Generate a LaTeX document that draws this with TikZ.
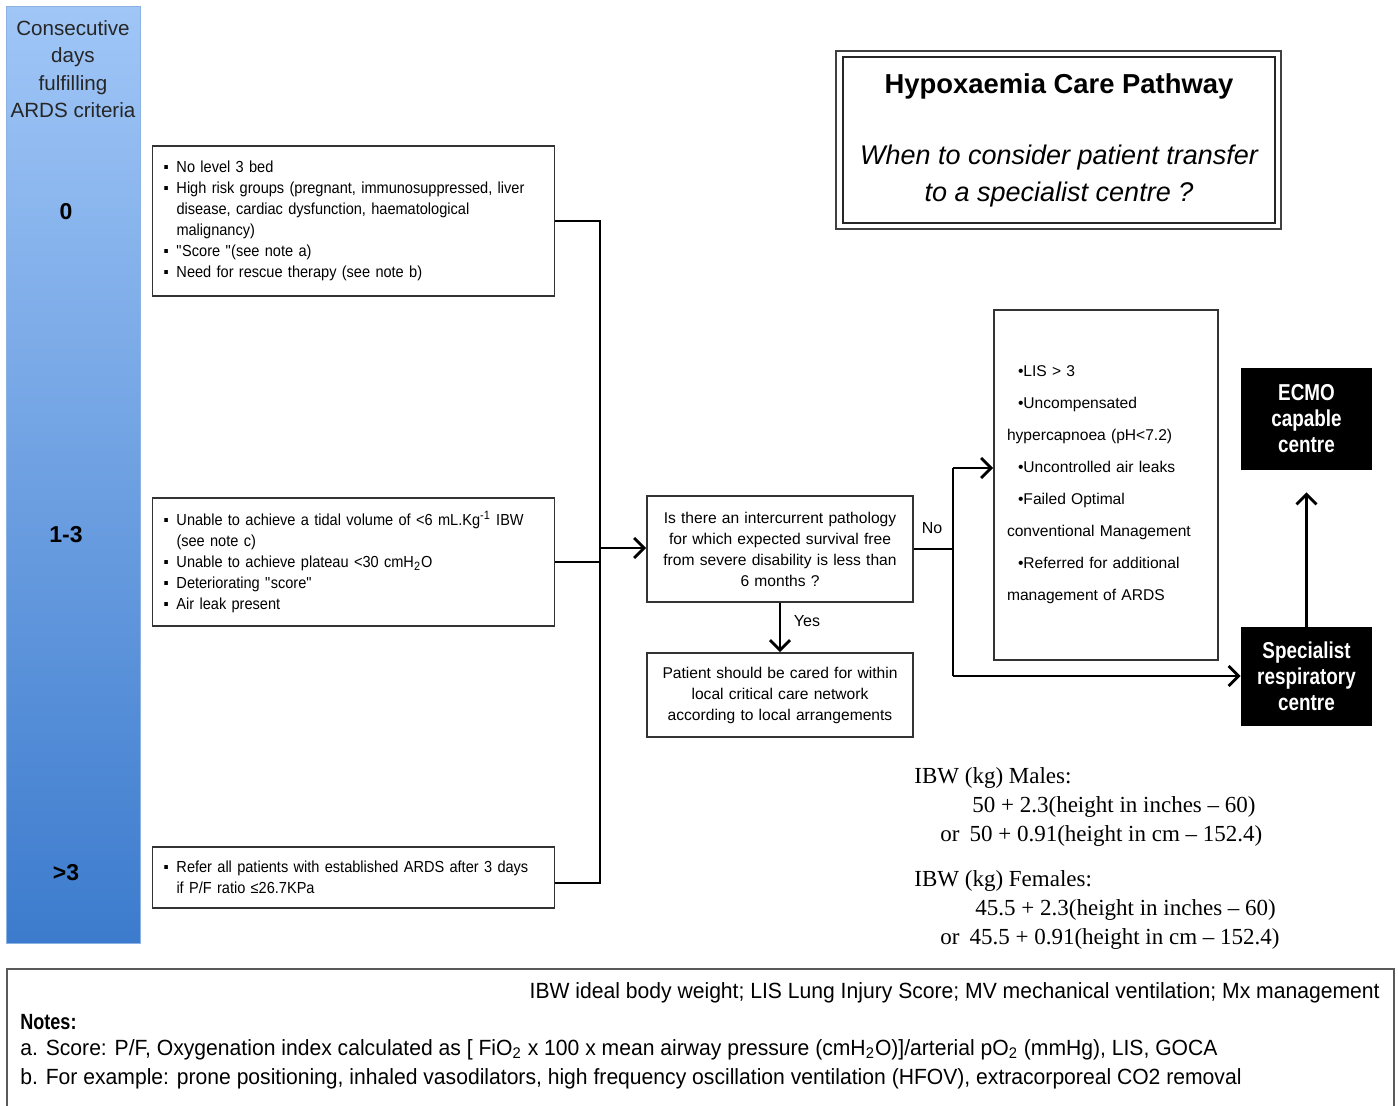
\documentclass[tikz,border=0pt]{standalone}
\usepackage{fontspec}
\setmainfont{Liberation Sans}
\newfontfamily\serf{Liberation Serif}
\newfontfamily\narrowf{Liberation Sans}[FakeStretch=0.82]
\newfontfamily\condf{Liberation Sans}[FakeStretch=0.91]
\newfontfamily\notef{Liberation Sans}[FakeStretch=0.96]
\usetikzlibrary{arrows.meta}
\definecolor{barTop}{RGB}{160,198,247}
\definecolor{barBot}{RGB}{60,123,205}
\definecolor{barEdge}{RGB}{140,178,228}
\newcommand{\bl}{\makebox[6.5pt][l]{▪}}
\newcommand{\ind}{\hspace*{6.5pt}}
\newcommand{\lisind}{\hspace*{5.5pt}}
\begin{document}
\begin{tikzpicture}[x=0.5pt,y=-0.5pt,
  box/.style={draw=black!80, line width=0.9pt, fill=white, inner xsep=5.5pt, inner ysep=2pt,
    font=\fontsize{7.8}{10.5}\selectfont},
  cbox/.style={box, font=\condf\fontsize{8}{10.5}\selectfont, text width=190pt, align=left},
  bbox/.style={fill=black, text=white, align=center, inner sep=0,
    font=\narrowf\bfseries\fontsize{11.5}{13}\selectfont},
  conn/.style={line width=1.4pt},
  arr/.style={conn, -{Straight Barb[length=5pt,width=10pt]}},
  lbl/.style={font=\fontsize{8}{10}\selectfont, inner sep=0},
  nfont/.style={font=\notef\fontsize{11}{13}\selectfont, inner sep=0},
  ibw/.style={font=\serf\fontsize{11.5}{14.5}\selectfont, align=left, inner sep=0, anchor=west}]
\useasboundingbox (0,0) rectangle (1398,1105);

% left bar
\node[draw=barEdge, line width=0.5pt, top color=barTop, bottom color=barBot,
      minimum width=67pt, minimum height=468.5pt, inner sep=0] (bar) at (73,474.5) {};
\node[font=\fontsize{10.3}{13.7}\selectfont, align=center, text=black!85, inner sep=0] (bartitle) at (73,69)
  {Consecutive\\days\\fulfilling\\ARDS criteria};
\node[font=\bfseries\fontsize{11.5}{14}\selectfont, inner sep=0] (d0) at (66,212) {0};
\node[font=\bfseries\fontsize{11.5}{14}\selectfont, inner sep=0] (d13) at (66,535) {1-3};
\node[font=\bfseries\fontsize{11.5}{14}\selectfont, inner sep=0] (d3) at (66,873) {>3};

% criteria boxes
\node[cbox, minimum height=75pt] (b0) at (353.5,221)
  {\bl No level 3 bed\\
   \bl High risk groups (pregnant, immunosuppressed, liver\\
   \ind disease, cardiac dysfunction, haematological\\
   \ind malignancy)\\
   \bl \textquotedbl Score \textquotedbl(see note a)\\
   \bl Need for rescue therapy (see note b)\\[4pt]};
\node[cbox, minimum height=64pt] (b13) at (353.5,562)
  {\bl Unable to achieve a tidal volume of <6 mL.Kg\textsuperscript{-1} IBW\\
   \ind (see note c)\\
   \bl Unable to achieve plateau <30 cmH\textsubscript{2}O\\
   \bl Deteriorating \textquotedbl score\textquotedbl\\
   \bl Air leak present\\[4pt]};
\node[cbox, minimum height=30.5pt] (b3) at (353.5,877.5)
  {\bl Refer all patients with established ARDS after 3 days\\
   \ind if P/F ratio ≤26.7KPa\\[2pt]};

% question and outcome
\node[box, text width=122pt, minimum height=53pt, align=center] (q) at (780,549)
  {Is there an intercurrent pathology\\ for which expected survival free\\ from severe disability is less than\\ 6 months ?};
\node[box, text width=122pt, minimum height=42pt, align=center] (pat) at (780,695)
  {Patient should be cared for within\\ local critical care network\\ according to local arrangements};

% LIS box
\node[box, text width=99pt, inner xsep=6.5pt, minimum height=175pt, align=left,
      font=\fontsize{7.8}{16}\selectfont] (lis) at (1106,485)
  {\lisind•LIS > 3\\
   \lisind•Uncompensated\\
   hypercapnoea (pH<7.2)\\
   \lisind•Uncontrolled air leaks\\
   \lisind•Failed Optimal\\
   conventional Management\\
   \lisind•Referred for additional\\
   management of ARDS\\[9pt]};

% black boxes
\node[bbox, minimum width=65.5pt, minimum height=51pt] (ecmo) at (1306.5,419) {ECMO\\capable\\centre};
\node[bbox, minimum width=65.5pt, minimum height=49.5pt] (spec) at (1306.5,676.5) {Specialist\\respiratory\\centre};

% title
\node[draw=black!85, line width=1pt, minimum width=216pt, minimum height=83pt, align=center,
      font=\fontsize{13.5}{18.5}\selectfont, inner sep=0] (title) at (1059,140)
  {\bfseries\fontsize{13.7}{16}\selectfont Hypoxaemia Care Pathway\\[17pt]
   \itshape When to consider patient transfer\\
   \itshape to a specialist centre ?};
\draw[draw=black!75, line width=1pt] ([shift={(-6,-5)}]title.north west) rectangle ([shift={(5,5)}]title.south east);

% IBW formulas
\node[ibw] (ibwm) at (914,806.5)
  {IBW (kg) Males:\\
   \hspace*{29pt}50 + 2.3(height in inches – 60)\\
   \hspace*{13pt}or\hspace*{5pt}50 + 0.91(height in cm – 152.4)};
\node[ibw] (ibwf) at (914,910)
  {IBW (kg) Females:\\
   \hspace*{30.5pt}45.5 + 2.3(height in inches – 60)\\
   \hspace*{13pt}or\hspace*{5pt}45.5 + 0.91(height in cm – 152.4)};

% connectors
\coordinate (jt) at (600,221);
\coordinate (jb) at (600,883);
\coordinate (jm) at (600,548);
\coordinate (nj) at (953,549);
\coordinate (nt) at (953,468);
\coordinate (nb) at (953,676);
\draw[conn] (b0.east) -- (jt) -- (jb) -- (b3.east |- jb);
\draw[conn] (b13.east) -- (b13.east -| jt);
\draw[arr] (jm) -- (q.west |- jm);
\draw[arr] (q.south) -- (pat.north);
\node[lbl] (yes) at (807,621) {Yes};
\draw[conn] (q.east) -- (nj);
\node[lbl] (no) at (932,528) {No};
\draw[conn] (nt) -- (nb);
\draw[arr] (nt) -- (lis.west |- nt);
\draw[arr] (nb) -- (spec.west |- nb);
\draw[arr, shorten >=11pt] (spec.north) -- (ecmo.south);

% notes
\node[draw=black!65, line width=0.8pt, minimum width=693.5pt, minimum height=75pt, anchor=north west, inner sep=0] (notes) at (6,968) {};
\node[nfont, anchor=east] (abbr) at (1380,993) {IBW ideal body weight; LIS Lung Injury Score; MV mechanical ventilation; Mx management};
\node[nfont, anchor=west, font=\narrowf\bfseries\fontsize{11}{13}\selectfont] (nh) at (20,1022) {Notes:};
\node[nfont, anchor=west] (na) at (20,1050) {a. Score: P/F, Oxygenation index calculated as [ FiO\textsubscript{2} x 100 x mean airway pressure (cmH\textsubscript{2}O)]/arterial pO\textsubscript{2} (mmHg), LIS, GOCA};
\node[nfont, anchor=west] (nb2) at (20,1079) {b. For example: prone positioning, inhaled vasodilators, high frequency oscillation ventilation (HFOV), extracorporeal CO2 removal};
\end{tikzpicture}
\end{document}
